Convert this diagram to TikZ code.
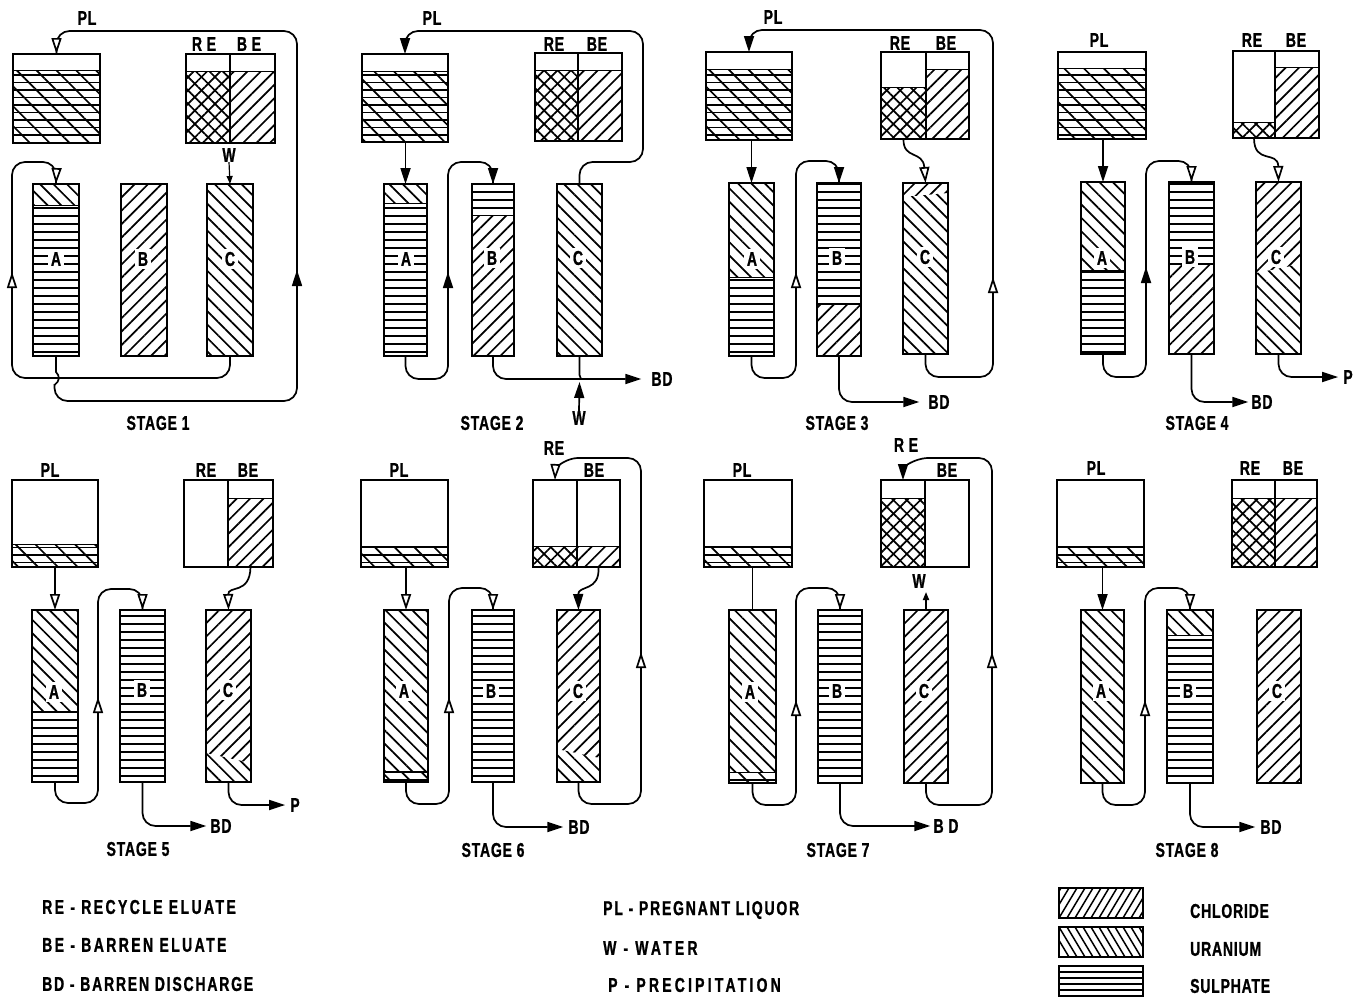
\documentclass[tikz,border=0pt]{standalone}
\usepackage{fontspec}
\setmainfont[FakeStretch=0.7,LetterSpace=4,BoldFeatures={FakeBold=1}]{Liberation Sans}
\newfontfamily\lsA[FakeStretch=0.7,LetterSpace=12,BoldFeatures={FakeBold=1}]{Liberation Sans}
\newfontfamily\lsB[FakeStretch=0.7,LetterSpace=9,BoldFeatures={FakeBold=1}]{Liberation Sans}
\newfontfamily\lsC[FakeStretch=0.7,LetterSpace=16,BoldFeatures={FakeBold=1}]{Liberation Sans}
\newfontfamily\lsD[FakeStretch=0.7,LetterSpace=4,BoldFeatures={FakeBold=1}]{Liberation Sans}
\usetikzlibrary{arrows.meta,patterns.meta}
\tikzset{
  x=1pt,y=-1pt,
  vesselbox/.style={draw,line width=2pt,inner sep=0pt,outer sep=0pt},
  wire/.style={line width=1.7pt,rounded corners=13pt},
  plain/.style={line width=1.7pt},
  arr/.style={-{Triangle[length=16pt,width=10pt]}},
  arro/.style={-{Triangle[open,length=16pt,width=10pt,fill=white]}},
  tag/.style={font=\fontsize{20}{20}\bfseries\selectfont,inner sep=0pt},
  collet/.style={tag,fill=white,inner sep=3pt},
  stagelbl/.style={font=\fontsize{20}{20}\bfseries\selectfont,inner sep=0pt},
  legend/.style={font=\fontsize{20}{20}\bfseries\selectfont,inner sep=0pt,anchor=west},
  chlp/.style={pattern={Lines[angle=45,distance=9.5pt,line width=1.7pt]}},
  urap/.style={pattern={Lines[angle=-45,distance=9.5pt,line width=1.7pt]}},
  plqp/.style={pattern={Lines[angle=-45,distance=14pt,line width=1.7pt]}},
  hline/.style={line width=1.6pt},
  levline/.style={line width=0.9pt},
  keyline/.style={line width=1.5pt},
}
\newcommand\vessel[6]{%
  \def\XA{#2}\def\XB{#3}\def\YA{#4}\def\YB{#5}#6%
  \node[vesselbox,minimum width={(#3-#2)*1pt},minimum height={(#5-#4)*1pt}] (#1) at ({(#2+#3)/2},{(#4+#5)/2}) {};}
\newcommand\hLines[3]{\pgfmathtruncatemacro\kA{#2/#1+1}\pgfmathtruncatemacro\kB{#3/#1}%
  \foreach \k in {\kA,...,\kB} \draw[hline] (\XA,\k*#1) -- (\XB,\k*#1);}
\newcommand\hChl[2]{\pattern[chlp] (\XA,#1) rectangle (\XB,#2);\draw[levline] (\XA,#1) -- (\XB,#1);}
\newcommand\hUra[2]{\pattern[urap] (\XA,#1) rectangle (\XB,#2);\draw[levline] (\XA,#1) -- (\XB,#1);}
\newcommand\hSul[2]{\hLines{8}{#1}{#2}\draw[levline] (\XA,#1) -- (\XB,#1);}
\newcommand\hPlq[2]{\hLines{7.5}{#1}{#2}\pattern[plqp] (\XA,#1) rectangle (\XB,#2);\draw[levline] (\XA,#1) -- (\XB,#1);}
\newcommand\hRec[2]{\pattern[chlp] (\XA,#1) rectangle (\XB,#2);\pattern[urap] (\XA,#1) rectangle (\XB,#2);\draw[levline] (\XA,#1) -- (\XB,#1);}
\newcommand\hChev[3]{\pattern[chlp] (\XA,\YA) -- (\XB,\YA) -- (\XB,#2) -- (\XA,#1) -- cycle;\pattern[urap] (\XA,#1) -- (\XB,#2) -- (\XB,\YB) -- (\XA,\YB) -- cycle;#3}
\newcommand\midtip[3]{\draw[plain,#3] (#1,#2+8) -- (#1,#2-8);}
\begin{document}
\begin{tikzpicture}
\useasboundingbox (0,0) rectangle (1357,1004);
\fill[white] (0,0) rectangle (1357,1004);
% ===== STAGE 1
\vessel{s1p}{13}{100}{54}{143}{\hPlq{70}{143}}
\vessel{s1r}{186}{230}{54}{143}{\hRec{71}{143}}
\vessel{s1b}{230}{275}{54}{143}{\hChl{71}{143}}
\vessel{s1A}{33}{79}{184}{356}{\hUra{\YA}{205}\hSul{205}{\YB}}
\vessel{s1B}{121}{167}{184}{356}{\hChl{\YA}{\YB}}
\vessel{s1C}{207}{253}{184}{356}{\hUra{\YA}{\YB}}
\node[collet] (s1Al) at (56,259) {A};\node[collet] (s1Bl) at (143,259) {B};\node[collet] (s1Cl) at (230,259) {C};
\node[tag] (s1pl) at (87,18) {PL};\node[tag] (s1rl) at (204,44) {R E};\node[tag] (s1bl) at (249,44) {B E};
\node[tag] (s1w) at (229,155) {W};
\node[stagelbl] (s1s) at (158,423) {STAGE 1};
\draw[wire] (s1C.south) |- (12,378) -- (12,162) -| (s1A.north);
\draw[plain] (s1A.south) -- (56,372) .. controls (60,376) and (60,381) .. (54.5,385);
\draw[wire] (54.5,384) |- (297,401) -- (297,31) -| (s1p.north);
\draw[plain,arro] (56.5,170) -- (s1A.north);
\draw[plain,arro] (56.5,40) -- (s1p.north);
\midtip{12}{280}{arro}\midtip{297}{278}{arr}
\draw[line width=1.2pt,-{Triangle[length=8pt,width=6pt]}] (s1w.south) -- (s1C.north);
% ===== STAGE 2
\vessel{s2p}{362}{448}{54}{142}{\hPlq{71}{142}}
\vessel{s2r}{535}{578}{53}{141}{\hRec{70}{141}}
\vessel{s2b}{578}{622}{53}{141}{\hChl{70}{141}}
\vessel{s2A}{384}{427}{184}{356}{\hUra{\YA}{203}\hSul{203}{\YB}}
\vessel{s2B}{472}{514}{184}{356}{\hSul{\YA}{215}\hChl{215}{\YB}}
\vessel{s2C}{557}{602}{184}{356}{\hUra{\YA}{\YB}}
\node[collet] (s2Al) at (406,259) {A};\node[collet] (s2Bl) at (492,258) {B};\node[collet] (s2Cl) at (578,258) {C};
\node[tag] (s2pl) at (432,18) {PL};\node[tag] (s2rl) at (554,44) {RE};\node[tag] (s2bl) at (597,44) {BE};
\node[tag] (s2bd) at (662,379) {BD};\node[tag] (s2w) at (579,418) {W};
\node[stagelbl] (s2s) at (492,423) {STAGE 2};
\draw[wire,arr] (s2C.north) |- (643,162) -- (643,31) -| (s2p.north);
\draw[plain,arr] (s2A.north |- s2p.south) -- (s2A.north);
\draw[wire] (s2A.south) |- (448,379) -- (448,162) -| (s2B.north);
\draw[plain,arr] (493,170) -- (s2B.north);
\draw[wire,arr] (s2B.south) |- ([xshift=-10pt]s2bd.west);
\draw[plain] (s2C.south) -- (579.5,375) -- (581,379);
\draw[plain,arr] (s2w.north) -- (579.5,382);
\midtip{448}{280}{arr}
% ===== STAGE 3
\vessel{s3p}{706}{792}{52}{140}{\hPlq{69}{140}}
\vessel{s3r}{881}{926}{52}{139}{\hRec{87}{139}}
\vessel{s3b}{926}{969}{52}{139}{\hChl{69}{139}}
\vessel{s3A}{729}{774}{183}{356}{\hUra{\YA}{277}\hSul{277}{\YB}}
\vessel{s3B}{817}{861}{183}{356}{\hSul{\YA}{304}\hChl{304}{\YB}}
\vessel{s3C}{903}{948}{183}{354}{\hChev{197}{193}{}}
\node[collet] (s3Al) at (752,259) {A};\node[collet] (s3Bl) at (837,258) {B};\node[collet] (s3Cl) at (925,257) {C};
\node[tag] (s3pl) at (773,17) {PL};\node[tag] (s3rl) at (900,43) {RE};\node[tag] (s3bl) at (946,43) {BE};
\node[tag] (s3bd) at (939,402) {BD};
\node[stagelbl] (s3s) at (837,423) {STAGE 3};
\draw[wire,arr] (s3C.south) |- (993,377) -- (993,30) -| (s3p.north);
\draw[plain,arr] (s3A.north |- s3p.south) -- (s3A.north);
\draw[wire] (s3A.south) |- (796,378) -- (796,161) -| (s3B.north);
\draw[plain,arr] (839,170) -- (s3B.north);
\draw[wire,arr] (s3B.south) |- ([xshift=-9pt]s3bd.west);
\draw[plain,arro] (s3r.south) .. controls (903,160) and (923,150) .. (s3C.north);
\midtip{796}{280}{arro}\midtip{993}{285}{arro}
% ===== STAGE 4
\vessel{s4p}{1058}{1146}{52}{139}{\hPlq{68}{139}}
\vessel{s4r}{1233}{1275}{51}{138}{\hRec{122}{138}}
\vessel{s4b}{1275}{1319}{51}{138}{\hChl{67}{138}}
\vessel{s4A}{1081}{1125}{182}{354}{\hUra{\YA}{270}\hSul{270}{\YB}}
\vessel{s4B}{1169}{1214}{182}{354}{\hSul{\YA}{264}\hChl{264}{\YB}}
\vessel{s4C}{1256}{1301}{182}{354}{\hChev{273}{264}{}}
\node[collet] (s4Al) at (1102,258) {A};\node[collet] (s4Bl) at (1190,257) {B};\node[collet] (s4Cl) at (1276,257) {C};
\node[tag] (s4pl) at (1099,40) {PL};\node[tag] (s4rl) at (1252,40) {RE};\node[tag] (s4bl) at (1296,40) {BE};
\node[tag] (s4bd) at (1262,402) {BD};\node[tag] (s4pp) at (1348,377) {P};
\node[stagelbl] (s4s) at (1197,423) {STAGE 4};
\draw[plain,arr] (s4A.north |- s4p.south) -- (s4A.north);
\draw[wire] (s4A.south) |- (1146,377) -- (1146,161) -| (s4B.north);
\draw[plain,arro] (1191.5,168) -- (s4B.north);
\draw[wire,arr] (s4B.south) |- ([xshift=-3pt]s4bd.west);
\draw[wire,arr] (s4C.south) |- ([xshift=-5pt]s4pp.west);
\draw[plain,arro] (s4r.south) .. controls (1254,165) and (1278,150) .. (s4C.north);
\midtip{1146}{275}{arr}
% ===== STAGE 5
\vessel{s5p}{12}{98}{480}{567}{\hPlq{544}{567}}
\vessel{s5r}{184}{228}{480}{567}{}
\vessel{s5b}{228}{273}{480}{567}{\hChl{498}{567}}
\vessel{s5A}{32}{78}{610}{782}{\hUra{\YA}{711}\hSul{711}{\YB}}
\vessel{s5B}{120}{165}{610}{782}{\hSul{\YA}{\YB}}
\vessel{s5C}{206}{251}{610}{782}{\hChev{753}{763}{}}
\node[collet] (s5Al) at (54,692) {A};\node[collet] (s5Bl) at (142,690) {B};\node[collet] (s5Cl) at (228,690) {C};
\node[tag] (s5pl) at (50,470) {PL};\node[tag] (s5rl) at (206,470) {RE};\node[tag] (s5bl) at (248,470) {BE};
\node[tag] (s5bd) at (221,826) {BD};\node[tag] (s5pp) at (295,805) {P};
\node[stagelbl] (s5s) at (138,849) {STAGE 5};
\draw[plain,arro] (s5A.north |- s5p.south) -- (s5A.north);
\draw[wire] (s5A.south) |- (98,803) -- (98,589) -| (s5B.north);
\draw[plain,arro] (142.5,594) -- (s5B.north);
\draw[wire,arr] (s5B.south) |- ([xshift=-4pt]s5bd.west);
\draw[wire,arr] (s5C.south) |- ([xshift=-5pt]s5pp.west);
\draw[plain,arro] (s5b.south) .. controls (250,595) and (228,585) .. (s5C.north);
\midtip{98}{705}{arro}
% ===== STAGE 6
\vessel{s6p}{361}{448}{480}{567}{\hPlq{546}{567}}
\vessel{s6r}{533}{577}{480}{567}{\hRec{546}{567}}
\vessel{s6b}{577}{620}{480}{567}{\hChl{546}{567}}
\vessel{s6A}{384}{428}{610}{782}{\hUra{\YA}{771}\hPlq{771}{\YB}}
\vessel{s6B}{472}{514}{610}{782}{\hSul{\YA}{\YB}}
\vessel{s6C}{557}{600}{610}{782}{\hChev{749}{758}{}}
\node[collet] (s6Al) at (404,691) {A};\node[collet] (s6Bl) at (491,691) {B};\node[collet] (s6Cl) at (578,691) {C};
\node[tag] (s6pl) at (399,470) {PL};\node[tag] (s6rl) at (554,448) {RE};\node[tag] (s6bl) at (594,470) {BE};
\node[tag] (s6bd) at (579,827) {BD};
\node[stagelbl] (s6s) at (493,850) {STAGE 6};
\draw[plain,arro] (s6A.north |- s6p.south) -- (s6A.north);
\draw[wire] (s6A.south) |- (449,804) -- (449,588) -| (s6B.north);
\draw[plain,arro] (493,594) -- (s6B.north);
\draw[wire,arr] (s6B.south) |- ([xshift=-5pt]s6bd.west);
\draw[plain,arr] (s6b.south) .. controls (600,592) and (578,585) .. (s6C.north);
\draw[wire] (s6C.south) |- (641,804) -- (641,458) -- (565,458) -- (556,468);
\draw[plain,arro] (555.5,464) -- (s6r.north);
\midtip{449}{705}{arro}\midtip{641}{660}{arro}
% ===== STAGE 7
\vessel{s7p}{704}{792}{480}{567}{\hPlq{546}{567}}
\vessel{s7r}{881}{925}{480}{567}{\hRec{498}{567}}
\vessel{s7b}{925}{969}{480}{567}{}
\vessel{s7A}{729}{776}{610}{783}{\hUra{\YA}{772}\hPlq{772}{\YB}}
\vessel{s7B}{818}{862}{610}{783}{\hSul{\YA}{\YB}}
\vessel{s7C}{904}{948}{610}{783}{\hChl{\YA}{\YB}}
\node[collet] (s7Al) at (750,692) {A};\node[collet] (s7Bl) at (837,691) {B};\node[collet] (s7Cl) at (924,691) {C};
\node[tag] (s7pl) at (742,470) {PL};\node[tag] (s7rl) at (906,445) {R E};\node[tag] (s7bl) at (947,470) {BE};
\node[tag] (s7bd) at (946,826) {B D};\node[tag] (s7w) at (919,581) {W};
\node[stagelbl] (s7s) at (838,850) {STAGE 7};
\draw[plain] (s7A.north |- s7p.south) -- (s7A.north);
\draw[wire] (s7A.south) |- (796,805) -- (796,588) -| (s7B.north);
\draw[plain,arro] (840,594) -- (s7B.north);
\draw[wire,arr] (s7B.south) |- ([xshift=-3pt]s7bd.west);
\draw[wire] (s7C.south) |- (992,805) -- (992,458) -- (915,458) -- (903,468);
\draw[plain,arr] (903,464) -- (s7r.north);
\coordinate (s7wt) at (926,592);
\draw[plain,-{Triangle[length=8pt,width=6pt]}] (s7C.north) -- (s7wt);
\midtip{796}{708}{arro}\midtip{992}{660}{arro}
% ===== STAGE 8
\vessel{s8p}{1057}{1144}{480}{567}{\hPlq{546}{567}}
\vessel{s8r}{1232}{1275}{480}{567}{\hRec{498}{567}}
\vessel{s8b}{1275}{1317}{480}{567}{\hChl{498}{567}}
\vessel{s8A}{1081}{1124}{610}{783}{\hUra{\YA}{\YB}}
\vessel{s8B}{1167}{1213}{610}{783}{\hUra{\YA}{635}\hSul{635}{\YB}}
\vessel{s8C}{1257}{1301}{610}{783}{\hChl{\YA}{\YB}}
\node[collet] (s8Al) at (1101,691) {A};\node[collet] (s8Bl) at (1188,691) {B};\node[collet] (s8Cl) at (1277,691) {C};
\node[tag] (s8pl) at (1096,468) {PL};\node[tag] (s8rl) at (1250,468) {RE};\node[tag] (s8bl) at (1293,468) {BE};
\node[tag] (s8bd) at (1271,827) {BD};
\node[stagelbl] (s8s) at (1187,850) {STAGE 8};
\draw[plain,arr] (s8A.north |- s8p.south) -- (s8A.north);
\draw[wire] (s8A.south) |- (1145,805) -- (1145,588) -| (s8B.north);
\draw[plain,arro] (1190,594) -- (s8B.north);
\draw[wire,arr] (s8B.south) |- ([xshift=-5pt]s8bd.west);
\midtip{1145}{708}{arro}
% ===== LEGEND
\node[legend] (l1) at (42,907) {\lsA RE - RECYCLE ELUATE};
\node[legend] (l2) at (42,945) {\lsA BE - BARREN ELUATE};
\node[legend] (l3) at (42,984) {\lsB BD - BARREN DISCHARGE};
\node[legend] (l4) at (603,910) {\lsB PL - PREGNANT LIQUOR};
\node[legend] (l5) at (603,948) {\lsC W - WATER};
\node[legend] (l6) at (608,985) {\lsC P - PRECIPITATION};
\begin{scope}
\clip (1059,888) rectangle (1143,918);
\foreach \k in {-3,...,11} \draw[keyline] (1059+\k*8,918) -- ++(18,-30);
\end{scope}
\node[vesselbox,minimum width=84pt,minimum height=30pt] (k1) at (1101,903) {};
\begin{scope}
\clip (1059,927) rectangle (1143,957);
\foreach \k in {-1,...,12} \draw[keyline] (1059+\k*8,927) -- ++(18,30);
\end{scope}
\node[vesselbox,minimum width=84pt,minimum height=30pt] (k2) at (1101,942) {};
\begin{scope}
\clip (1059,966) rectangle (1143,996);
\foreach \k in {1,...,4} \draw[keyline] (1059,966+\k*6) -- (1143,966+\k*6);
\end{scope}
\node[vesselbox,minimum width=84pt,minimum height=30pt] (k3) at (1101,981) {};
\node[legend] (k1l) at (1190,911) {\lsD CHLORIDE};
\node[legend] (k2l) at (1190,949) {\lsD URANIUM};
\node[legend] (k3l) at (1190,986) {\lsD SULPHATE};
\end{tikzpicture}
\end{document}
